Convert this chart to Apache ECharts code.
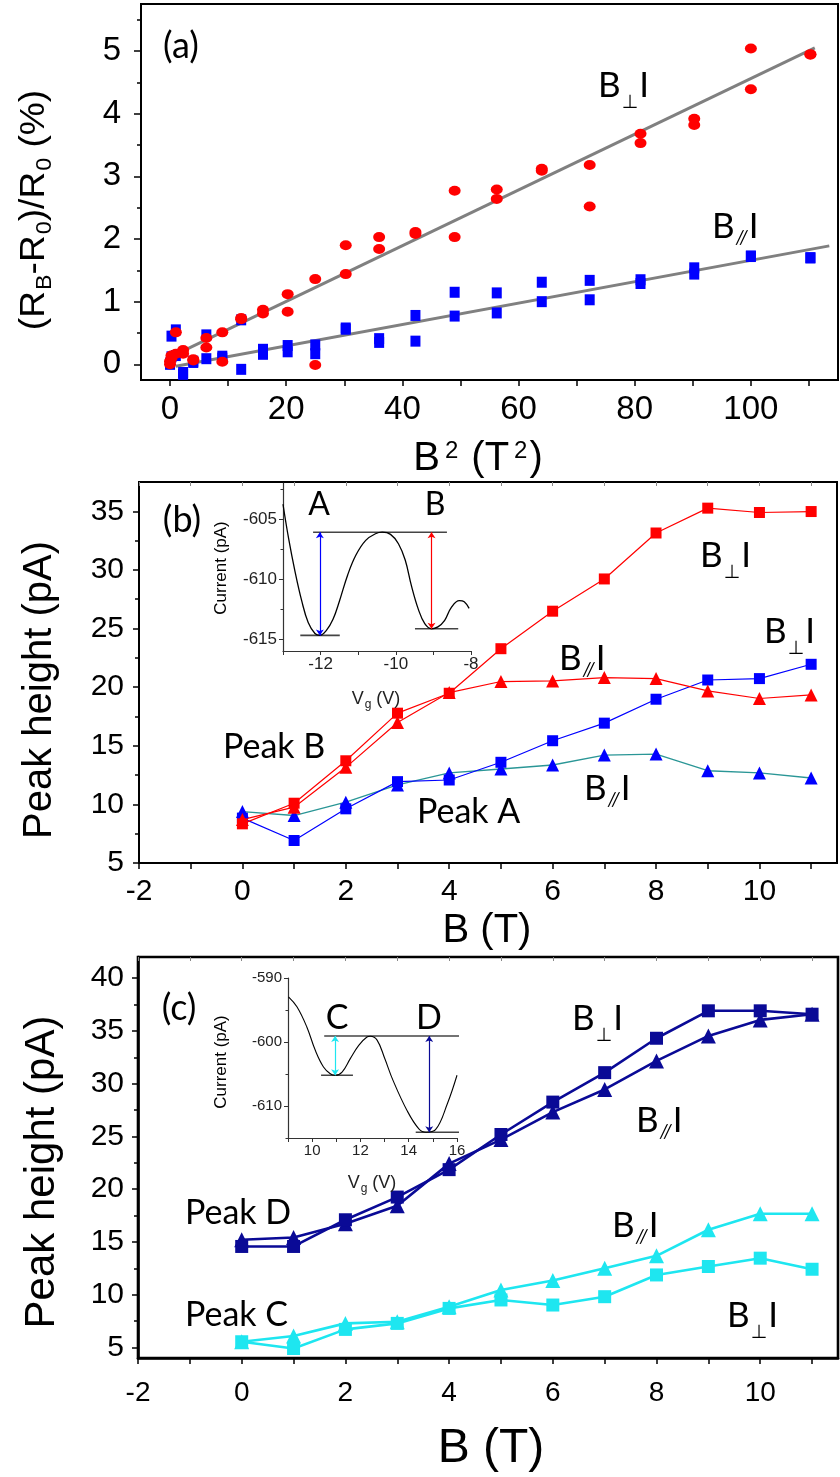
<!DOCTYPE html>
<html>
<head>
<meta charset="utf-8">
<script src="https://cdn.jsdelivr.net/npm/echarts@6.0.0/dist/echarts.min.js"></script>
<style>
  html, body { margin: 0; padding: 0; background: #fff; }
  #chart { width: 840px; height: 1477px; }
</style>
</head>
<body>
<div id="chart"></div>
<script>
// ---------- (a) relative magnetoresistance vs B^2 ----------
const aB2       = [0, 0.25, 1, 2.25, 4, 6.25, 9, 12.25, 16, 20.25, 25, 30.25, 36, 42.25, 49, 56.25, 64, 72.25, 81, 90.25, 100, 110.25];
const aPerpUp   = [0.05, 0.14, 0.51, 0.23, 0.08, 0.42, 0.51, 0.74, 0.87, 1.12, 1.36, 1.90, 2.03, 2.11, 2.77, 2.79, 3.12, 3.18, 3.68, 3.92, 5.04, 4.95];
const aPerpDown = [0.00, 0.10, 0.17, 0.17, 0.06, 0.27, 0.04, 0.72, 0.81, 0.84, -0.01, 1.44, 1.84, 2.08, 2.03, 2.64, 3.09, 2.52, 3.53, 3.82, 4.39, 4.94];
const aParUp    = [0.02, 0.45, 0.55, -0.16, 0.05, 0.47, 0.13, 0.71, 0.24, 0.30, 0.31, 0.58, 0.41, 0.78, 1.15, 1.14, 1.31, 1.34, 1.35, 1.54, 1.73, 1.70];
const aParDown  = [0.00, 0.12, 0.14, -0.13, 0.03, 0.09, 0.10, -0.08, 0.16, 0.20, 0.17, 0.56, 0.35, 0.37, 0.77, 0.82, 1.00, 1.03, 1.29, 1.44, 1.72, 1.70];
const aFitPerp  = [[1, 0.16], [111, 5.05]];
const aFitPar   = [[1, -0.03], [113.5, 1.89]];
const aXLabels  = [0, 20, 40, 60, 80, 100];
const aXTicks   = [0, 10, 20, 30, 40, 50, 60, 70, 80, 90, 100, 110];
const aYLabels  = [0, 1, 2, 3, 4, 5];
const aYMinor   = [0.5, 1.5, 2.5, 3.5, 4.5, 5.5];

// ---------- (b) peaks A and B vs field ----------
const bField     = [0, 1, 2, 3, 4, 5, 6, 7, 8, 9, 10, 11];
const bPeakBPerp = [8.34, 10.10, 13.72, 17.78, 19.48, 23.28, 26.48, 29.23, 33.15, 35.27, 34.90, 34.98];
const bPeakBPar  = [8.70, 9.76, 13.16, 16.99, 19.54, 20.48, 20.53, 20.82, 20.73, 19.68, 19.03, 19.34];
const bPeakAPerp = [8.83, 6.92, 9.62, 11.94, 12.08, 13.59, 15.43, 16.93, 18.97, 20.61, 20.73, 21.95];
const bPeakAPar  = [9.39, 9.05, 10.19, 11.66, 12.68, 13.02, 13.36, 14.21, 14.29, 12.87, 12.68, 12.25];
const bXLabels   = [-2, 0, 2, 4, 6, 8, 10];
const bXTicks    = [-2, -1, 0, 1, 2, 3, 4, 5, 6, 7, 8, 9, 10, 11];
const bYLabels   = [5, 10, 15, 20, 25, 30, 35];
const bYMinor    = [7.5, 12.5, 17.5, 22.5, 27.5, 32.5];

// inset of (b): current vs gate voltage
const ibVg  = [-13.0, -12.85, -12.68, -12.5, -12.33, -12.15, -12.02, -11.85, -11.67, -11.5, -11.28, -11.06, -10.8, -10.54, -10.36, -10.14, -9.93, -9.75, -9.58, -9.4, -9.23, -9.05, -8.88, -8.7, -8.53, -8.31, -8.18, -8.05];
const ibCur = [-603.77, -606.64, -609.38, -611.85, -613.63, -614.54, -614.7, -614.3, -613.36, -611.85, -609.66, -608.0, -606.78, -606.23, -606.1, -606.28, -607.06, -608.42, -610.62, -612.53, -613.72, -614.15, -613.99, -613.44, -612.4, -611.8, -611.9, -612.45];
const ibTop    = [[-12.2, -606.1], [-8.64, -606.1]];
const ibBaseA  = [[-12.54, -614.7], [-11.49, -614.7]];
const ibBaseB  = [[-9.49, -614.15], [-8.34, -614.15]];
const ibArrowA = [[-12.02, -614.7], [-12.02, -606.1]];
const ibArrowB = [[-9.05, -614.15], [-9.05, -606.1]];
const ibXLabels = [-12, -10, -8];
const ibXTicks  = [-13, -12, -11, -10, -9, -8];
const ibYLabels = [-615, -610, -605];
const ibYMinor  = [-612.5, -607.5, -602.5];

// ---------- (c) peaks C and D vs field ----------
const cField     = [0, 1, 2, 3, 4, 5, 6, 7, 8, 9, 10, 11];
const cPeakDPerp = [14.57, 14.57, 17.10, 19.25, 21.85, 25.18, 28.25, 31.04, 34.30, 36.90, 36.90, 36.58];
const cPeakDPar  = [15.20, 15.42, 16.72, 18.43, 22.42, 24.70, 27.30, 29.45, 32.15, 34.52, 36.04, 36.58];
const cPeakCPerp = [5.54, 4.90, 6.71, 7.28, 8.70, 9.50, 9.02, 9.81, 11.87, 12.67, 13.46, 12.41];
const cPeakCPar  = [5.54, 6.08, 7.28, 7.44, 8.86, 10.45, 11.34, 12.50, 13.68, 16.15, 17.67, 17.67];
const cXLabels   = [-2, 0, 2, 4, 6, 8, 10];
const cXTicks    = [-2, -1, 0, 1, 2, 3, 4, 5, 6, 7, 8, 9, 10, 11];
const cYLabels   = [5, 10, 15, 20, 25, 30, 35, 40];
const cYMinor    = [7.5, 12.5, 17.5, 22.5, 27.5, 32.5, 37.5];

// inset of (c)
const icVg  = [9.02, 9.37, 9.78, 10.13, 10.47, 10.75, 10.96, 11.24, 11.58, 11.93, 12.27, 12.41, 12.69, 13.0, 13.35, 13.93, 14.42, 14.72, 15.11, 15.6, 16.0];
const icCur = [-592.95, -594.5, -597.65, -601.3, -603.9, -604.95, -605.2, -604.7, -602.6, -600.52, -599.22, -599.1, -599.7, -602.5, -606.0, -610.7, -613.57, -614.1, -613.7, -609.65, -605.2];
const icTop    = [[10.5, -599.06], [16.2, -599.06]];
const icBaseC  = [[10.37, -605.2], [11.69, -605.2]];
const icBaseD  = [[14.29, -614.1], [16.19, -614.1]];
const icArrowC = [[10.95, -605.2], [10.95, -599.06]];
const icArrowD = [[14.85, -614.1], [14.85, -599.06]];
const icXLabels = [10, 12, 14, 16];
const icXTicks  = [9, 10, 11, 12, 13, 14, 15, 16];
const icYLabels = [-610, -600, -590];
const icYMinor  = [-615, -605, -595];

// ---------- styling ----------
const SANS = '"Liberation Sans", Arial, Helvetica, sans-serif';
const HUM  = 'Lato, "Open Sans", "DejaVu Sans", sans-serif';
const RED = '#ff0000', BLUE = '#0000ff', TEAL = '#2a9696', NAVY = '#0a0a96', CYAN = '#1ee6f0', GRAY = '#808080';

const zip = (xs, ys) => xs.map((x, i) => [x, ys[i]]);

function axis(o) {
  return {
    type: 'value', gridIndex: o.grid, min: o.min, max: o.max, position: o.pos,
    axisLine: { show: o.line !== false, onZero: false, lineStyle: { color: o.color || '#000', width: o.lw || 2 } },
    axisTick: o.ticks ? { show: true, customValues: o.ticks, length: o.len || 6, inside: !!o.inside,
      lineStyle: { color: o.tickColor || '#000', width: o.tw || 1.5 } } : { show: false },
    axisLabel: o.labels ? { show: true, customValues: o.labels, fontSize: o.fs, fontFamily: SANS,
      color: o.labelColor || '#000', margin: o.margin } : { show: false },
    splitLine: { show: false },
    minorTick: { show: false }
  };
}

const grids = [
  { left: 141, top: 4,   width: 697, height: 376, show: true, borderColor: '#000', borderWidth: 2 },
  { left: 139, top: 482, width: 698, height: 381, show: true, borderColor: '#000', borderWidth: 2 },
  { left: 138, top: 957, width: 700, height: 401, show: true, borderColor: '#000', borderWidth: 2.6 },
  { left: 283, top: 483, width: 188, height: 168 },
  { left: 288, top: 978, width: 169, height: 160 }
];

const xAxes = [
  axis({ grid: 0, min: -5, max: 115, pos: 'bottom', ticks: aXTicks, labels: aXLabels, fs: 33, margin: 13 }),            // 0
  axis({ grid: 1, min: -2, max: 11.5, pos: 'bottom', ticks: bXTicks, labels: bXLabels, fs: 30, margin: 14 }),          // 1
  axis({ grid: 1, min: -2, max: 11.5, pos: 'top', line: false, ticks: bXTicks, inside: true, len: 4, tickColor: '#888', tw: 1 }), // 2
  axis({ grid: 2, min: -2, max: 11.5, pos: 'bottom', lw: 2.6, ticks: cXTicks, labels: cXLabels, fs: 28, margin: 21 }),  // 3
  axis({ grid: 2, min: -2, max: 11.5, pos: 'top', line: false, ticks: cXTicks, inside: true, len: 4, tickColor: '#888', tw: 1 }), // 4
  axis({ grid: 3, min: -13, max: -8, pos: 'bottom', lw: 1.2, color: '#333', ticks: ibXTicks, len: 4, tw: 1, tickColor: '#333',
         labels: ibXLabels, fs: 17, margin: 5, labelColor: '#222' }),                                                      // 5
  axis({ grid: 4, min: 9, max: 16, pos: 'bottom', lw: 1.2, color: '#333', ticks: icXTicks, len: 4, tw: 1, tickColor: '#333',
         labels: icXLabels, fs: 15, margin: 5, labelColor: '#222' })                                                       // 6
];

const yAxes = [
  axis({ grid: 0, min: -0.25, max: 5.75, pos: 'left', ticks: aYLabels, labels: aYLabels, fs: 33, margin: 20, len: 7 }), // 0
  axis({ grid: 0, min: -0.25, max: 5.75, pos: 'left', line: false, ticks: aYMinor, len: 4 }),                          // 1
  axis({ grid: 1, min: 5, max: 37.5, pos: 'left', ticks: bYLabels, labels: bYLabels, fs: 30, margin: 15 }),             // 2
  axis({ grid: 1, min: 5, max: 37.5, pos: 'left', line: false, ticks: bYMinor, len: 4 }),                             // 3
  axis({ grid: 2, min: 4, max: 42, pos: 'left', lw: 2.6, ticks: cYLabels, labels: cYLabels, fs: 30, margin: 14 }),     // 4
  axis({ grid: 2, min: 4, max: 42, pos: 'left', line: false, ticks: cYMinor, len: 4 }),                               // 5
  axis({ grid: 3, min: -616, max: -602, pos: 'left', lw: 1.2, color: '#333', ticks: ibYLabels, len: 4, tw: 1, tickColor: '#333',
         labels: ibYLabels, fs: 17, margin: 6, labelColor: '#222' }),                                                      // 6
  axis({ grid: 3, min: -616, max: -602, pos: 'left', line: false, ticks: ibYMinor, len: 2.5, tw: 1, tickColor: '#333' }), // 7
  axis({ grid: 4, min: -615, max: -590, pos: 'left', lw: 1.2, color: '#333', ticks: icYLabels, len: 4, tw: 1, tickColor: '#333',
         labels: icYLabels, fs: 15, margin: 6, labelColor: '#222' }),                                                      // 8
  axis({ grid: 4, min: -615, max: -590, pos: 'left', line: false, ticks: icYMinor, len: 2.5, tw: 1, tickColor: '#333' })  // 9
];

function markerLine(xi, yi, xs, ys, symbol, size, color, lineColor, width) {
  return {
    type: 'line', xAxisIndex: xi, yAxisIndex: yi, data: zip(xs, ys),
    symbol: symbol, symbolSize: size, showSymbol: true, showAllSymbol: true,
    itemStyle: { color: color, opacity: 1 },
    lineStyle: { color: lineColor || color, width: width },
    emphasis: { disabled: true }, z: 3
  };
}
function plainLine(xi, yi, pts, color, width, z) {
  return {
    type: 'line', xAxisIndex: xi, yAxisIndex: yi, data: pts, symbol: 'none', clip: false,
    lineStyle: { color: color, width: width }, emphasis: { disabled: true }, z: z || 2
  };
}
function arrow(xi, yi, pts, color) {
  return {
    type: 'lines', coordinateSystem: 'cartesian2d', xAxisIndex: xi, yAxisIndex: yi,
    data: [{ coords: pts }], symbol: ['arrow', 'arrow'], symbolSize: 6,
    lineStyle: { color: color, width: 1.2, opacity: 1, curveness: 0 }, z: 4
  };
}

const series = [
  // (a)
  plainLine(0, 0, aFitPerp, GRAY, 3, 2),
  plainLine(0, 0, aFitPar, GRAY, 3, 2),
  { type: 'scatter', xAxisIndex: 0, yAxisIndex: 0, data: zip(aB2, aParUp).concat(zip(aB2, aParDown)),
    symbol: 'rect', symbolSize: [10, 11], itemStyle: { color: BLUE, opacity: 1 }, z: 3 },
  { type: 'scatter', xAxisIndex: 0, yAxisIndex: 0, data: zip(aB2, aPerpUp).concat(zip(aB2, aPerpDown)),
    symbol: 'circle', symbolSize: [12, 10], itemStyle: { color: RED, opacity: 1 }, z: 4 },
  // (b)
  markerLine(1, 2, bField, bPeakAPar, 'triangle', 13, BLUE, TEAL, 1.3),
  markerLine(1, 2, bField, bPeakAPerp, 'rect', 11, BLUE, BLUE, 1.2),
  markerLine(1, 2, bField, bPeakBPar, 'triangle', 13, RED, RED, 1.2),
  markerLine(1, 2, bField, bPeakBPerp, 'rect', 11, RED, RED, 1.2),
  // inset (b)
  { type: 'line', xAxisIndex: 5, yAxisIndex: 6, data: zip(ibVg, ibCur), symbol: 'none', smooth: 0.4,
    lineStyle: { color: '#000', width: 1.3 }, z: 3 },
  plainLine(5, 6, ibTop, '#444', 1.6, 2),
  plainLine(5, 6, ibBaseA, '#444', 1.6, 2),
  plainLine(5, 6, ibBaseB, '#444', 1.6, 2),
  arrow(5, 6, ibArrowA, BLUE),
  arrow(5, 6, ibArrowB, RED),
  // (c)
  markerLine(3, 4, cField, cPeakCPerp, 'rect', 13, CYAN, CYAN, 2.6),
  markerLine(3, 4, cField, cPeakCPar, 'triangle', 15, CYAN, CYAN, 2.6),
  markerLine(3, 4, cField, cPeakDPar, 'triangle', 15, NAVY, NAVY, 2.6),
  markerLine(3, 4, cField, cPeakDPerp, 'rect', 13, NAVY, NAVY, 2.6),
  // inset (c)
  { type: 'line', xAxisIndex: 6, yAxisIndex: 8, data: zip(icVg, icCur), symbol: 'none', smooth: 0.4,
    lineStyle: { color: '#000', width: 1.1 }, z: 3 },
  plainLine(6, 8, icTop, '#444', 1.4, 2),
  plainLine(6, 8, icBaseC, '#444', 1.4, 2),
  plainLine(6, 8, icBaseD, '#444', 1.4, 2),
  arrow(6, 8, icArrowC, CYAN),
  arrow(6, 8, icArrowD, NAVY)
];

// ---------- text annotations ----------
function txt(x, y, text, fs, family, align, extra) {
  return Object.assign({
    type: 'text', x: x, y: y, z: 100,
    style: { text: text, fontSize: fs, fontFamily: family, fill: '#000',
             align: align || 'center', verticalAlign: 'middle',
             textAlign: align || 'center', textVerticalAlign: 'middle' }
  }, extra || {});
}
// "B" + small subscript symbol + "I"
function bLabel(x, y, sub, kind) {
  const perp = kind === 'perp';
  const subFs = 19;
  const pad = perp ? 34 : 22;
  return {
    type: 'text', x: x, y: y, z: 100,
    style: {
      text: '{m|B}{s|' + sub + '}{m|I}',
      align: 'left', verticalAlign: 'middle', textAlign: 'left', textVerticalAlign: 'middle',
      rich: {
        m: { fontSize: 35, fontFamily: HUM, fill: '#000', lineHeight: 35 },
        s: { fontSize: subFs, fontFamily: perp ? '"DejaVu Sans", sans-serif' : HUM, fill: '#000',
             lineHeight: subFs, padding: [pad, 1, 0, 1], fontStyle: perp ? 'normal' : 'italic' }
      }
    }
  };
}
const PERP = '\u22A5', PAR = '//';

const graphics = [
  // panel letters
  txt(181, 46, '(a)', 36, HUM),
  txt(182, 520, '(b)', 36, HUM),
  txt(179, 1008, '(c)', 36, HUM),
  // field orientation tags
  bLabel(598, 86, PERP, 'perp'),
  bLabel(712, 227, PAR, 'par'),
  bLabel(700, 556, PERP, 'perp'),
  bLabel(764, 632, PERP, 'perp'),
  bLabel(559, 659, PAR, 'par'),
  bLabel(584, 789, PAR, 'par'),
  bLabel(572, 1019, PERP, 'perp'),
  bLabel(636, 1121, PAR, 'par'),
  bLabel(612, 1226, PAR, 'par'),
  bLabel(727, 1316, PERP, 'perp'),
  // peak names
  txt(223, 747, 'Peak B', 34, HUM, 'left'),
  txt(417, 812, 'Peak A', 34, HUM, 'left'),
  txt(185, 1213, 'Peak D', 34, HUM, 'left'),
  txt(185, 1315, 'Peak C', 34, HUM, 'left'),
  // inset peak letters
  txt(319, 505, 'A', 32, HUM),
  txt(435, 505, 'B', 32, HUM),
  txt(337, 1018, 'C', 34, HUM),
  txt(429, 1018, 'D', 34, HUM),
  // x axis titles
  {
    type: 'text', x: 478, y: 459, z: 100,
    style: {
      text: '{m|B}{p|2}{m| (T}{p|2}{m|)}', align: 'center', verticalAlign: 'middle',
      textAlign: 'center', textVerticalAlign: 'middle',
      rich: {
        m: { fontSize: 40, fontFamily: SANS, fill: '#000', lineHeight: 42 },
        p: { fontSize: 24, fontFamily: SANS, fill: '#000', lineHeight: 24, padding: [0, 2, 16, 5] }
      }
    }
  },
  txt(487, 931, 'B (T)', 40, SANS),
  txt(491, 1449, 'B (T)', 48, SANS),
  // y axis titles
  {
    type: 'text', x: 34, y: 210, rotation: Math.PI / 2, scaleX: 1.06, z: 100,
    style: {
      text: '{m|(R}{s|B}{m|-R}{s|0}{m|)/R}{s|0}{m| (%)}', align: 'center', verticalAlign: 'middle',
      textAlign: 'center', textVerticalAlign: 'middle',
      rich: {
        m: { fontSize: 35, fontFamily: SANS, fill: '#000', lineHeight: 36 },
        s: { fontSize: 22, fontFamily: SANS, fill: '#000', lineHeight: 22, padding: [22, 0, 0, 1] }
      }
    }
  },
  txt(40, 690, 'Peak height (pA)', 40, SANS, 'center', { rotation: Math.PI / 2 }),
  txt(42, 1172, 'Peak height (pA)', 42, SANS, 'center', { rotation: Math.PI / 2 }),
  // inset axis titles
  txt(221, 568, 'Current (pA)', 17, SANS, 'center', { rotation: Math.PI / 2 }),
  txt(221, 1062, 'Current (pA)', 17, SANS, 'center', { rotation: Math.PI / 2 }),
  {
    type: 'text', x: 376, y: 699, z: 100,
    style: {
      text: '{m|V}{s|g}{m| (V)}', align: 'center', verticalAlign: 'middle',
      textAlign: 'center', textVerticalAlign: 'middle',
      rich: {
        m: { fontSize: 18, fontFamily: SANS, fill: '#222', lineHeight: 18 },
        s: { fontSize: 12, fontFamily: SANS, fill: '#222', lineHeight: 12, padding: [12, 0, 0, 1] }
      }
    }
  },
  {
    type: 'text', x: 372, y: 1183, z: 100,
    style: {
      text: '{m|V}{s|g}{m| (V)}', align: 'center', verticalAlign: 'middle',
      textAlign: 'center', textVerticalAlign: 'middle',
      rich: {
        m: { fontSize: 18, fontFamily: SANS, fill: '#222', lineHeight: 18 },
        s: { fontSize: 12, fontFamily: SANS, fill: '#222', lineHeight: 12, padding: [12, 0, 0, 1] }
      }
    }
  }
];

const chart = echarts.init(document.getElementById('chart'), null, { renderer: 'canvas' });
chart.setOption({
  animation: false,
  backgroundColor: '#fff',
  grid: grids,
  xAxis: xAxes,
  yAxis: yAxes,
  series: series,
  graphic: { elements: graphics }
});
</script>
</body>
</html>
